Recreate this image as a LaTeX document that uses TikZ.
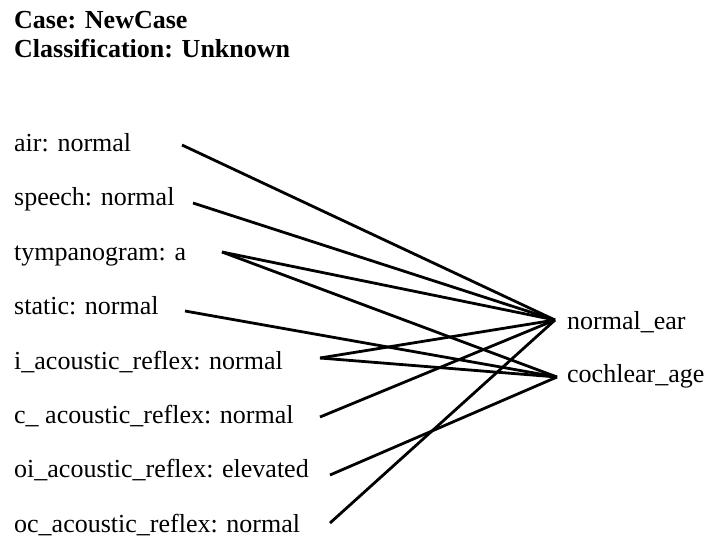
\documentclass[tikz,border=0pt]{standalone}
\usepackage{fontspec}
\setmainfont{Liberation Serif}
\begin{document}
\begin{tikzpicture}[x=1pt,y=-1pt,
  lab/.style={anchor=base west, inner sep=0pt, font=\fontsize{26}{30}\selectfont},
  head/.style={anchor=base west, inner sep=0pt, font=\fontsize{26}{30}\selectfont\bfseries},
  link/.style={line width=2.8pt}]
\useasboundingbox (0,0) rectangle (707,539);
\node[head] (case) at (14,28) {Case: NewCase};
\node[head] (cls) at (14,57) {Classification: Unknown};
\node[lab] (air) at (14,151) {air: normal};
\node[lab] (speech) at (14,205) {speech: normal};
\node[lab] (tymp) at (14,260) {tympanogram: a};
\node[lab] (static) at (14,314) {static: normal};
\node[lab] (iar) at (14,369) {i\_acoustic\_reflex: normal};
\node[lab] (car) at (14,423) {c\_ acoustic\_reflex: normal};
\node[lab] (oiar) at (14,477) {oi\_acoustic\_reflex: elevated};
\node[lab] (ocar) at (14,532) {oc\_acoustic\_reflex: normal};
\node[lab] (normalear) at (567,329) {normal\_ear};
\node[lab] (cochlear) at (567,382) {cochlear\_age};
\coordinate (airE) at (182,145);
\coordinate (speechE) at (193,203);
\coordinate (tympE) at (222,252);
\coordinate (staticE) at (185,311);
\coordinate (iarE) at (320,358);
\coordinate (carE) at (320,417);
\coordinate (oiarE) at (330,475);
\coordinate (ocarE) at (330,523);
\coordinate (neW) at (555,320);
\coordinate (caW) at (557,377);
\draw[link] (airE) -- (neW);
\draw[link] (speechE) -- (neW);
\draw[link] (tympE) -- (neW);
\draw[link] (tympE) -- (caW);
\draw[link] (staticE) -- (caW);
\draw[link] (iarE) -- (neW);
\draw[link] (iarE) -- (caW);
\draw[link] (carE) -- (neW);
\draw[link] (oiarE) -- (caW);
\draw[link] (ocarE) -- (neW);
\end{tikzpicture}
\end{document}
